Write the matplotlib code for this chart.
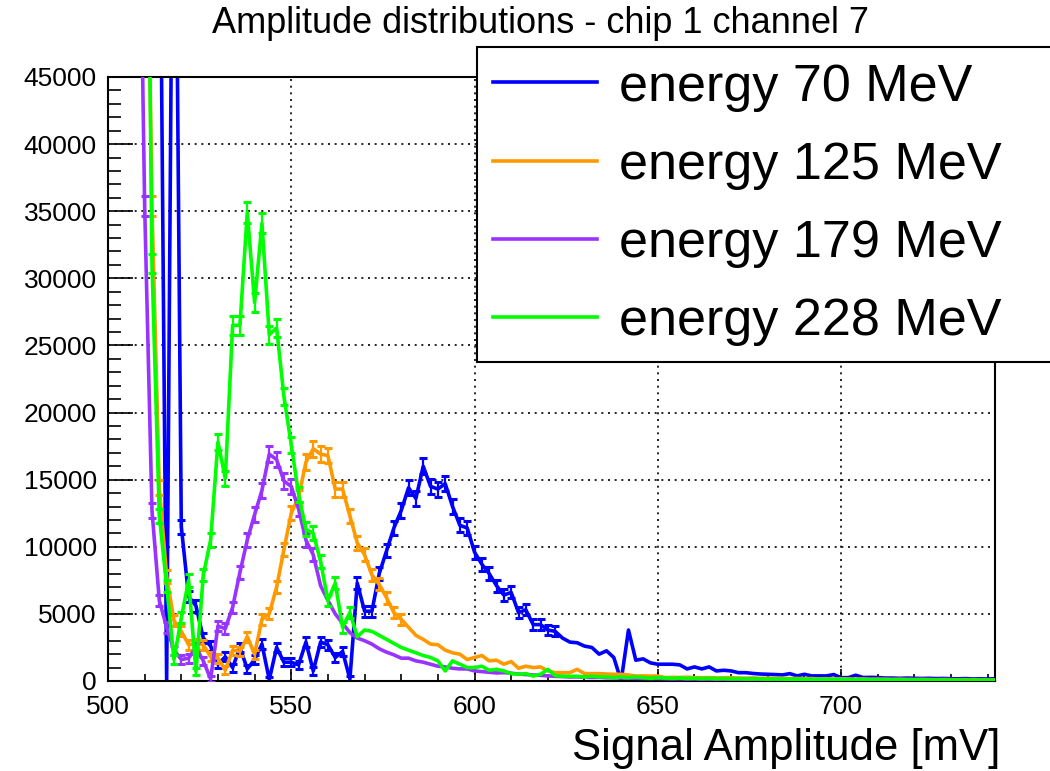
import numpy as np
import matplotlib
matplotlib.use("Agg")
import matplotlib.pyplot as plt
from matplotlib.ticker import MultipleLocator

plt.rcParams['font.family'] = ['Liberation Sans', 'DejaVu Sans']

# bin centres [mV], 2 mV bins
amplitude_mv = np.arange(500, 743, 2)

# counts per bin (bins above 45000 are off scale)
counts_70 = [
    300000, 260000, 220000, 180000, 140000, 110000, 85000, 65000, 0, 75000,
    11500, 6300, 5600, 3200, 2600, 1250, 1800, 1000, 2500, 900,
    1600, 2750, 100, 2500, 1400, 1400, 1200, 2900, 750, 2900,
    2700, 1750, 2200, 150, 7300, 5200, 5200, 8000, 9700, 11400,
    12700, 14400, 13600, 16000, 14500, 14300, 14700, 13000, 11600, 11400,
    9600, 8700, 8000, 7100, 6400, 6600, 5100, 5300, 4200, 4200,
    3800, 3700, 3200, 2900, 2850, 2600, 2500, 2000, 2250, 1750,
    0, 3800, 1550, 1650, 1350, 1250, 1250, 1250, 1200, 900,
    1050, 900, 1050, 750, 800, 750, 620, 620, 560, 520,
    500, 480, 450, 550, 380, 500, 380, 380, 380, 480,
    250, 250, 430, 260, 270, 260, 220, 220, 200, 220,
    200, 190, 200, 180, 190, 170, 160, 180, 150, 160,
    150, 170]
counts_125 = [
    300000, 250000, 200000, 150000, 110000, 71000, 35400, 14400, 7800, 4500,
    3700, 2700, 2800, 2700, 1800, 1700, 800, 2300, 2200, 3300,
    2000, 4600, 5000, 7000, 9800, 12500, 13700, 16300, 17300, 16900,
    16800, 14300, 14300, 12300, 10300, 9400, 7900, 7200, 6200, 5100,
    4600, 4000, 3400, 3100, 2750, 2700, 2300, 2100, 2000, 1600,
    1750, 1900, 1500, 1550, 1250, 1450, 950, 1100, 1000, 1050,
    750, 620, 620, 620, 870, 550, 550, 550, 520, 500,
    500, 450, 370, 380, 370, 370, 250, 270, 260, 280,
    250, 240, 250, 230, 240, 250, 220, 210, 230, 200,
    210, 190, 200, 180, 190, 170, 180, 160, 170, 150,
    160, 150, 140, 150, 130, 140, 130, 120, 130, 120,
    110, 120, 110, 100, 110, 100, 90, 100, 90, 80,
    90, 80]
counts_179 = [
    400000, 320000, 240000, 160000, 71000, 35400, 12700, 6000, 4000, 2300,
    1600, 1700, 2500, 1500, 150, 4100, 3900, 5500, 8100, 10500,
    12400, 14200, 16900, 16500, 14900, 14500, 12800, 10500, 9400, 7100,
    6000, 5000, 4300, 3600, 3200, 3000, 2750, 2400, 2150, 1950,
    1700, 1700, 1500, 1400, 1250, 1100, 1050, 950, 900, 900,
    750, 700, 650, 600, 620, 580, 520, 480, 450, 420,
    380, 350, 330, 300, 310, 280, 260, 270, 240, 230,
    220, 210, 200, 190, 180, 190, 170, 160, 170, 150,
    160, 140, 150, 130, 140, 120, 130, 120, 110, 120,
    100, 110, 100, 90, 100, 90, 80, 90, 80, 70,
    80, 70, 60, 70, 60, 60, 50, 60, 50, 50,
    40, 50, 40, 40, 50, 40, 30, 40, 30, 30,
    40, 30]
counts_228 = [
    500000, 400000, 300000, 200000, 140000, 82600, 31100, 12300, 7100, 1600,
    4700, 7500, 700, 7900, 10500, 17800, 15100, 26500, 26500, 34900,
    28200, 34100, 25800, 26300, 21200, 17600, 13900, 11300, 11000, 8900,
    6000, 7300, 4000, 5100, 3300, 3800, 3700, 3400, 3100, 2800,
    2500, 2300, 2100, 1900, 1750, 1500, 750, 1500, 1250, 1000,
    1000, 1100, 800, 870, 750, 550, 500, 550, 370, 500,
    870, 400, 350, 350, 350, 300, 350, 300, 300, 250,
    300, 250, 300, 250, 200, 250, 220, 200, 220, 190,
    200, 180, 190, 170, 180, 160, 170, 150, 160, 150,
    140, 150, 140, 130, 140, 130, 120, 130, 120, 110,
    120, 110, 100, 110, 100, 90, 100, 90, 90, 80,
    90, 80, 80, 70, 80, 70, 70, 60, 70, 60,
    60, 70]

labels = ['energy 70 MeV', 'energy 125 MeV', 'energy 179 MeV', 'energy 228 MeV']
colors = ['#0000ff', '#ff9900', '#9933ff', '#00ff00']
# range of bins where error bars are drawn
err_ranges = [(520, 622), (512, 580), (510, 556), (512, 566)]


def main():
    fig = plt.figure(figsize=(10.5, 7.71), dpi=100)
    ax = fig.add_axes([108/1050, 1 - 681/771, 887/1050, 604/771])

    all_counts = [counts_70, counts_125, counts_179, counts_228]
    for i, counts in enumerate(all_counts):
        y = np.array(counts, dtype=float)
        lo, hi = err_ranges[i]
        sel = (amplitude_mv >= lo) & (amplitude_mv <= hi) & (y > 0) & (y < 45000)
        yerr = 3 * np.sqrt(y[sel]) + 200
        ax.errorbar(amplitude_mv[sel], y[sel], yerr=yerr, fmt='none',
                    ecolor=colors[i], elinewidth=1.6, capsize=3, capthick=2.2,
                    zorder=2 + i)
        ax.plot(amplitude_mv, y, color=colors[i], lw=2.6, label=labels[i],
                zorder=2 + i)

    ax.set_xlim(500, 742)
    ax.set_ylim(0, 45000)

    ax.xaxis.set_major_locator(MultipleLocator(50))
    ax.xaxis.set_minor_locator(MultipleLocator(10))
    ax.yaxis.set_major_locator(MultipleLocator(5000))
    ax.yaxis.set_minor_locator(MultipleLocator(1000))
    ax.tick_params(which='both', direction='in', top=False, right=False, width=1.2)
    ax.tick_params(axis='y', which='major', length=18, labelsize=19, pad=8)
    ax.tick_params(axis='y', which='minor', length=9)
    ax.tick_params(axis='x', which='major', length=8.5, labelsize=19, pad=10)
    ax.tick_params(axis='x', which='minor', length=5)

    for s in ax.spines.values():
        s.set_linewidth(1.5)
    ax.grid(True, which='major', color='black', linestyle=(0, (1.2, 2.8)), linewidth=1.2)
    ax.set_axisbelow(True)

    fig.text(541/1050, 1 - 33/771, 'Amplitude distributions - chip 1 channel 7',
             ha='center', va='baseline', fontsize=26)
    fig.text(1000/1050, 1 - 760/771, 'Signal Amplitude [mV]',
             ha='right', va='baseline', fontsize=31.5)

    leg = ax.legend(loc='upper left', bbox_to_anchor=(477/1050, 1 - 47/771, 0.6, 0),
                    bbox_transform=fig.transFigure, mode='expand', borderaxespad=0,
                    fontsize=37.5, handlelength=2.0, handletextpad=0.42,
                    labelspacing=0.56, borderpad=0.3, fancybox=False,
                    framealpha=1, edgecolor='black')
    leg.get_frame().set_linewidth(1.5)
    leg.set_zorder(10)

    fig.savefig('out.png', dpi=100)


if __name__ == "__main__":
    main()
